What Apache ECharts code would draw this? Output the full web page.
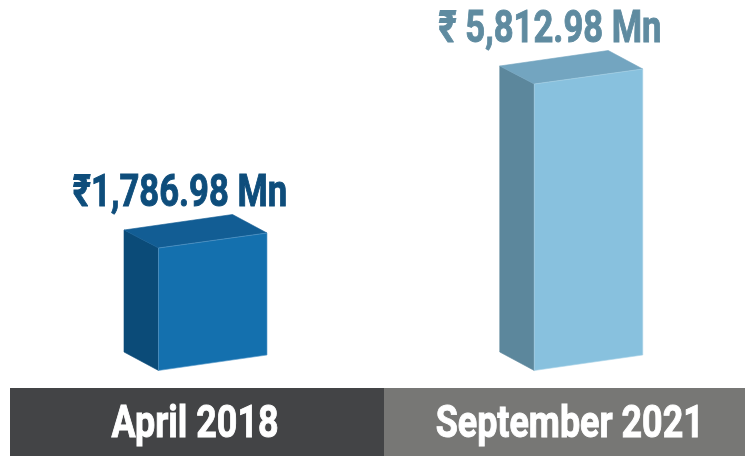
<!DOCTYPE html>
<html>
<head>
<meta charset="utf-8">
<title>Chart</title>
<script src="https://cdn.jsdelivr.net/npm/echarts@6/dist/echarts.min.js"></script>
<style>
html, body { margin: 0; padding: 0; background: #fff; }
#mainEchart { width: 745px; height: 456px; }
</style>
</head>
<body>
<div id="mainEchart"></div>
<script>
var categories = ['April 2018', 'September 2021'];
var seriesValues = [1786.98, 5812.98];
var valueLabels = ['₹1,786.98 Mn', '₹ 5,812.98 Mn'];

// 每根柱子的配色
var frontColors = ['#1470AE', '#88C1DE'];
var sideColors = ['#0B4B78', '#5C879C'];
var topColors = ['#125D94', '#73A5C0'];
var edgeColors = ['#5C9CCB', '#A9D3E8'];
var labelColors = ['#0E4D7B', '#5F8BA0'];
var stripColors = ['#434446', '#777775'];
// 相对类目中心的偏移量
var barShift = [-35.25, -27];
var valueLabelShift = [-13.75, -11.25];
var stripLabelShift = [1.25, 8.5];
var stripEdges = [10, 384, 745];

var chart = echarts.init(document.getElementById('mainEchart'));

function face(points, fill, edge) {
	return {
		type: 'polygon',
		shape: { points: points },
		style: { fill: fill, stroke: edge, lineWidth: 0.6 }
	};
}

// 粗体窄字：没有 Roboto Condensed，用横向压缩加描边代替
function heavyText(text, color, x, y, scaleX) {
	return {
		type: 'text',
		x: x,
		y: y,
		scaleX: scaleX,
		scaleY: 1.08,
		style: {
			text: text,
			fill: color,
			stroke: color,
			lineWidth: 0.9,
			font: 'bold 41px Roboto',
			align: 'center',
			verticalAlign: 'middle'
		}
	};
}

function renderBox(params, api) {
	var i = params.dataIndex;
	var topPt = api.coord([i, api.value(1)]);
	var basePt = api.coord([i, -1220]);
	var cx = topPt[0];
	var x = cx + barShift[i];
	var yT = topPt[1];
	var yB = basePt[1];
	var w = 108.5;

	return {
		type: 'group',
		children: [
			// 底部色条和类目文字
			{
				type: 'rect',
				shape: { x: stripEdges[i], y: 388, width: stripEdges[i + 1] - stripEdges[i], height: 68 },
				style: { fill: stripColors[i] }
			},
			heavyText(categories[i], '#fff', cx + stripLabelShift[i], 426, 0.875),
			// 立方体三个面
			face([[x - 34.5, yT - 18], [x, yT], [x, yB], [x - 34.5, yB - 18.5]], sideColors[i], sideColors[i]),
			face([[x - 34.5, yT - 18], [x + 74, yT - 33.5], [x + w, yT - 15], [x, yT]], topColors[i], topColors[i]),
			face([[x, yT], [x + w, yT - 15], [x + w, yB - 15.5], [x, yB]], frontColors[i], edgeColors[i]),
			// 数值文字
			heavyText(valueLabels[i], labelColors[i], cx + valueLabelShift[i], yT - 53, 0.845)
		]
	};
}

var option = {
	animation: false,
	backgroundColor: '#fff',
	grid: { left: 10, top: 84, width: 735, height: 286.5 },
	xAxis: { type: 'category', data: categories, show: false },
	yAxis: { type: 'value', min: -1220, max: 5812.98, show: false },
	series: [{
		type: 'custom',
		clip: false,
		renderItem: renderBox,
		encode: { x: 0, y: 1 },
		data: seriesValues.map(function (v, i) { return [i, v]; })
	}]
};
chart.setOption(option);
</script>
</body>
</html>
